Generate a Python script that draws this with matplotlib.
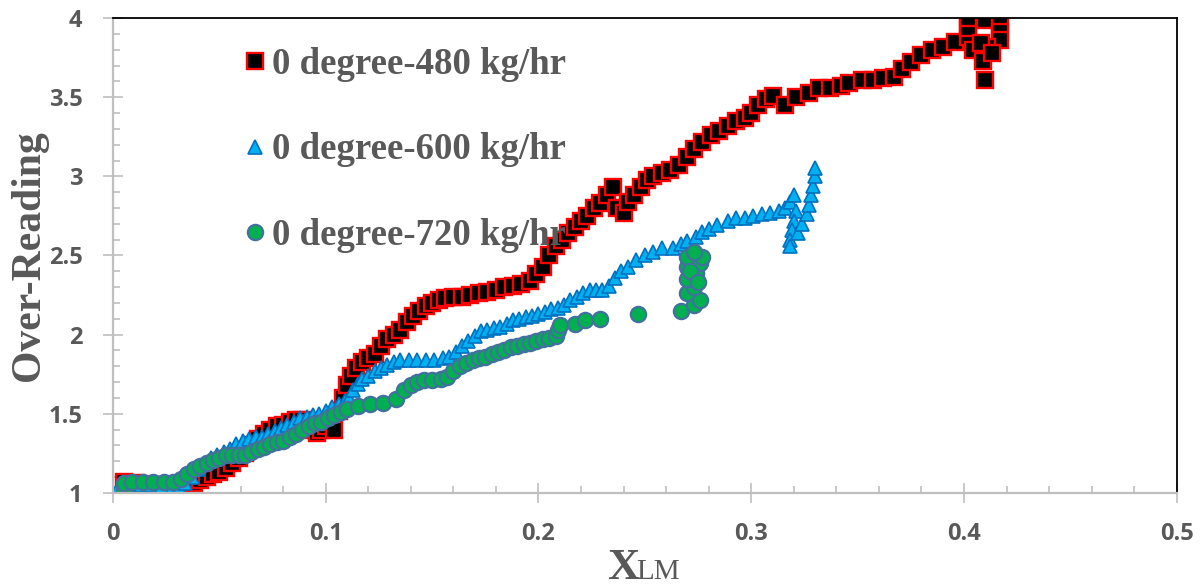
import numpy as np
import matplotlib
matplotlib.use("Agg")
import matplotlib.pyplot as plt
from matplotlib.ticker import MultipleLocator, FormatStrFormatter

# Data (X_LM vs over-reading)

x_480 = [0.005, 0.008, 0.011, 0.014, 0.017, 0.020, 0.023, 0.026, 0.029, 0.032,
         0.035, 0.038, 0.041, 0.044, 0.047, 0.050, 0.053, 0.056, 0.059, 0.062,
         0.065, 0.068, 0.071, 0.074, 0.077, 0.080, 0.083, 0.086, 0.089, 0.092,
         0.094, 0.096, 0.098, 0.100, 0.102, 0.104, 0.106, 0.108, 0.110, 0.112,
         0.114, 0.117, 0.120, 0.123, 0.126, 0.129, 0.132, 0.135, 0.138, 0.141,
         0.144, 0.147, 0.150, 0.153, 0.156, 0.160, 0.164, 0.168, 0.172, 0.176,
         0.180, 0.184, 0.188, 0.192, 0.196, 0.199, 0.202, 0.205, 0.208, 0.211,
         0.214, 0.217, 0.220, 0.223, 0.226, 0.229, 0.232, 0.235, 0.237, 0.240,
         0.242, 0.245, 0.248, 0.251, 0.254, 0.258, 0.262, 0.266, 0.270, 0.273,
         0.277, 0.281, 0.285, 0.289, 0.293, 0.297, 0.300, 0.303, 0.307, 0.310,
         0.316, 0.321, 0.327, 0.332, 0.337, 0.342, 0.346, 0.352, 0.357, 0.362,
         0.367, 0.371, 0.375, 0.380, 0.385, 0.390, 0.396, 0.402, 0.404, 0.402,
         0.402, 0.410, 0.417, 0.417, 0.417, 0.411, 0.408, 0.409, 0.410, 0.413]
y_480 = [1.07, 1.05, 1.06, 1.05, 1.04, 1.05, 1.03, 1.04, 1.03, 1.05,
         1.04, 1.06, 1.08, 1.10, 1.12, 1.13, 1.16, 1.19, 1.22, 1.25,
         1.30, 1.34, 1.37, 1.40, 1.42, 1.43, 1.45, 1.46, 1.46, 1.44,
         1.40, 1.38, 1.40, 1.42, 1.45, 1.40, 1.52, 1.60, 1.68, 1.74,
         1.79, 1.83, 1.85, 1.88, 1.93, 1.97, 2.00, 2.03, 2.08, 2.12,
         2.15, 2.18, 2.20, 2.22, 2.23, 2.24, 2.24, 2.25, 2.26, 2.27,
         2.28, 2.30, 2.31, 2.32, 2.34, 2.38, 2.43, 2.50, 2.56, 2.60,
         2.64, 2.68, 2.72, 2.75, 2.80, 2.83, 2.88, 2.93, 2.80, 2.77,
         2.84, 2.88, 2.93, 2.98, 3.00, 3.02, 3.04, 3.07, 3.12, 3.17,
         3.22, 3.26, 3.29, 3.32, 3.35, 3.37, 3.40, 3.45, 3.49, 3.51,
         3.45, 3.50, 3.53, 3.56, 3.56, 3.57, 3.59, 3.61, 3.61, 3.62,
         3.63, 3.68, 3.72, 3.77, 3.80, 3.82, 3.85, 3.88, 3.80, 3.94,
         4.00, 3.99, 3.98, 3.91, 3.86, 3.82, 3.84, 3.73, 3.61, 3.78]

x_600 = [0.003, 0.008, 0.013, 0.018, 0.023, 0.028, 0.031, 0.034, 0.037, 0.040,
         0.043, 0.046, 0.049, 0.052, 0.055, 0.058, 0.061, 0.064, 0.067, 0.070,
         0.073, 0.076, 0.079, 0.082, 0.085, 0.088, 0.091, 0.094, 0.097, 0.100,
         0.103, 0.106, 0.109, 0.111, 0.113, 0.115, 0.117, 0.120, 0.123, 0.126,
         0.129, 0.132, 0.135, 0.139, 0.143, 0.147, 0.151, 0.155, 0.158, 0.161,
         0.164, 0.167, 0.170, 0.173, 0.176, 0.179, 0.182, 0.185, 0.188, 0.191,
         0.194, 0.197, 0.200, 0.203, 0.206, 0.209, 0.212, 0.215, 0.218, 0.221,
         0.224, 0.227, 0.230, 0.233, 0.236, 0.239, 0.242, 0.246, 0.250, 0.254,
         0.258, 0.263, 0.267, 0.270, 0.274, 0.277, 0.280, 0.284, 0.289, 0.293,
         0.297, 0.301, 0.305, 0.309, 0.313, 0.316, 0.318, 0.320, 0.321, 0.320,
         0.319, 0.318, 0.318, 0.322, 0.324, 0.326, 0.327, 0.328, 0.329, 0.330,
         0.330]
y_600 = [1.04, 1.05, 1.05, 1.05, 1.04, 1.04, 1.03, 1.06, 1.10, 1.15,
         1.19, 1.22, 1.24, 1.26, 1.28, 1.31, 1.33, 1.34, 1.35, 1.35,
         1.37, 1.39, 1.41, 1.43, 1.45, 1.47, 1.48, 1.49, 1.50, 1.52,
         1.54, 1.56, 1.58, 1.60, 1.65, 1.69, 1.72, 1.74, 1.77, 1.79,
         1.81, 1.83, 1.84, 1.84, 1.84, 1.84, 1.84, 1.85, 1.86, 1.89,
         1.93, 1.96, 1.99, 2.02, 2.03, 2.04, 2.05, 2.07, 2.09, 2.10,
         2.11, 2.12, 2.13, 2.14, 2.16, 2.17, 2.19, 2.22, 2.24, 2.26,
         2.28, 2.28, 2.28, 2.31, 2.36, 2.40, 2.43, 2.47, 2.50, 2.52,
         2.55, 2.55, 2.57, 2.59, 2.62, 2.65, 2.67, 2.69, 2.72, 2.74,
         2.74, 2.75, 2.76, 2.77, 2.78, 2.80, 2.84, 2.88, 2.78, 2.72,
         2.66, 2.60, 2.56, 2.64, 2.70, 2.76, 2.82, 2.88, 2.94, 3.00,
         3.05]

x_720 = [0.005, 0.005, 0.009, 0.014, 0.019, 0.024, 0.028, 0.032, 0.035, 0.038,
         0.041, 0.044, 0.047, 0.050, 0.053, 0.056, 0.059, 0.062, 0.065, 0.068,
         0.071, 0.074, 0.077, 0.080, 0.083, 0.086, 0.089, 0.092, 0.095, 0.098,
         0.101, 0.104, 0.107, 0.110, 0.115, 0.121, 0.127, 0.133, 0.137, 0.140,
         0.143, 0.146, 0.150, 0.154, 0.157, 0.160, 0.163, 0.166, 0.169, 0.172,
         0.175, 0.178, 0.181, 0.184, 0.187, 0.190, 0.193, 0.196, 0.199, 0.202,
         0.205, 0.208, 0.209, 0.210, 0.217, 0.222, 0.229, 0.247, 0.267, 0.273,
         0.276, 0.270, 0.273, 0.270, 0.274, 0.270, 0.276, 0.270, 0.277, 0.273,
         0.271, 0.275]
y_720 = [1.02, 1.06, 1.07, 1.07, 1.07, 1.07, 1.07, 1.09, 1.12, 1.15,
         1.17, 1.19, 1.21, 1.22, 1.24, 1.24, 1.24, 1.24, 1.26, 1.28,
         1.29, 1.31, 1.32, 1.33, 1.35, 1.37, 1.40, 1.42, 1.44, 1.45,
         1.47, 1.49, 1.51, 1.53, 1.55, 1.56, 1.57, 1.59, 1.65, 1.68,
         1.70, 1.71, 1.71, 1.72, 1.73, 1.77, 1.80, 1.82, 1.84, 1.85,
         1.86, 1.88, 1.89, 1.90, 1.92, 1.93, 1.94, 1.95, 1.96, 1.97,
         1.98, 1.99, 2.03, 2.06, 2.07, 2.09, 2.10, 2.13, 2.15, 2.19,
         2.22, 2.26, 2.30, 2.35, 2.39, 2.43, 2.45, 2.49, 2.49, 2.52,
         2.40, 2.33]

labels = ["0 degree-480 kg/hr", "0 degree-600 kg/hr", "0 degree-720 kg/hr"]

grey = "#595959"
axis_grey = "#bfbfbf"

plt.rcParams["font.family"] = ["Open Sans", "DejaVu Sans"]
plt.rcParams["font.weight"] = "bold"

fig = plt.figure(figsize=(12.02, 5.86), dpi=100)
ax = fig.add_axes([0.094, 0.159, 0.885, 0.81])

ax.plot(x_480, y_480, linestyle="none", marker="s", markersize=11,
        markerfacecolor="black", markeredgecolor="#ff0000", markeredgewidth=1.7,
        label=labels[0])
ax.plot(x_600, y_600, linestyle="none", marker="^", markersize=10,
        markerfacecolor="#00b0f0", markeredgecolor="#0070c0", markeredgewidth=1.2,
        label=labels[1])
ax.plot(x_720, y_720, linestyle="none", marker="o", markersize=11,
        markerfacecolor="#00b050", markeredgecolor="#41719c", markeredgewidth=1.6,
        label=labels[2])

ax.set_xlim(0, 0.5)
ax.set_ylim(1, 4)

# axis look (excel style: grey left/bottom, black top/right)
ax.spines["left"].set_color(axis_grey)
ax.spines["bottom"].set_color(axis_grey)
ax.spines["left"].set_linewidth(1.6)
ax.spines["bottom"].set_linewidth(1.6)
ax.spines["top"].set_color("black")
ax.spines["right"].set_color("black")
ax.spines["top"].set_linewidth(1.3)
ax.spines["right"].set_linewidth(1.3)

ax.xaxis.set_major_locator(MultipleLocator(0.1))
ax.xaxis.set_minor_locator(MultipleLocator(0.02))
ax.yaxis.set_major_locator(MultipleLocator(0.5))
ax.yaxis.set_minor_locator(MultipleLocator(0.1))
ax.xaxis.set_major_formatter(FormatStrFormatter("%g"))
ax.yaxis.set_major_formatter(FormatStrFormatter("%g"))

ax.tick_params(which="major", direction="inout", length=14, width=1.2,
               color=axis_grey, labelcolor=grey, labelsize=17)
ax.tick_params(which="minor", direction="in", length=5, width=1.2, color=axis_grey)
ax.tick_params(axis="x", which="major", pad=14)
ax.tick_params(axis="y", which="major", pad=15)

ax.set_ylabel("Over-Reading", fontsize=30, family="Liberation Serif",
              weight="bold", color=grey)
ax.yaxis.set_label_coords(-0.061, 0.5)

# x label: big X with small-caps LM
fig.text(0.505, 0.012, "X", fontsize=32, family="Liberation Serif",
         weight="bold", color=grey, ha="left", va="baseline")
fig.text(0.529, 0.012, "LM", fontsize=21, family="Liberation Serif",
         weight="normal", color=grey, ha="left", va="baseline")

leg = ax.legend(loc="upper left", bbox_to_anchor=(0.125, 0.94), frameon=False,
                prop={"family": "Liberation Serif", "weight": "bold", "size": 26.5},
                labelspacing=1.38, handlelength=0.5, handletextpad=0.2,
                borderpad=0, borderaxespad=0)
for t in leg.get_texts():
    t.set_color(grey)

plt.savefig("out.png", dpi=100)
